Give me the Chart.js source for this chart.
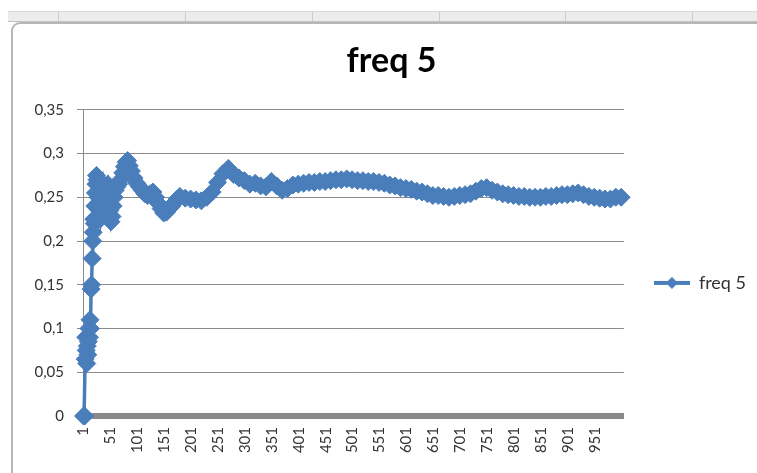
<!DOCTYPE html>
<html>
<head>
<meta charset="utf-8">
<title>freq 5</title>
<script src="https://cdn.jsdelivr.net/npm/chart.js@4.4.1/dist/chart.umd.min.js"></script>
<style>
  html, body { margin: 0; padding: 0; background: #fff; }
  body { width: 757px; height: 473px; position: relative; overflow: hidden; }
  .sheet-head { position: absolute; left: 8px; right: 0; top: 11px; height: 9px; background: #ececec; border-top: 1px solid #dadada; border-bottom: 1px solid #c2c2c2; }
  .sheet-head span { position: absolute; top: 0; bottom: 0; width: 1px; background: #cdcdcd; }
  .frame { position: absolute; left: 11px; top: 22px; width: 820px; height: 520px; border: 2px solid #b7b7b7; border-radius: 9px; background: #fff; }
  #wrap { position: absolute; left: 0; top: 0; width: 757px; height: 473px; }
</style>
</head>
<body>
<div class="sheet-head">
  <span style="left:50px"></span><span style="left:177px"></span><span style="left:304px"></span>
  <span style="left:431px"></span><span style="left:557px"></span><span style="left:684px"></span>
</div>
<div class="frame"></div>
<div id="wrap"><canvas id="freqChart" width="757" height="473"></canvas></div>
<script>
// series (trial number -> running frequency)
const seriesName = 'freq 5';
const steps = [1, 2, 3, 4, 5, 6, 7, 8, 9, 10, 11, 12, 13, 14, 15, 16, 17, 18, 19, 20,
  21, 22, 23, 24, 25, 26, 28, 30, 32, 34, 36, 38, 40, 42, 44, 46, 48, 50, 52, 54, 56, 58,
  60, 63, 66, 70, 74, 77, 80, 83, 86, 90, 95, 100, 105, 110, 115, 120, 125, 130, 135, 140,
  145, 150, 155, 160, 165, 170, 175, 180, 190, 200, 210, 220, 230, 240, 250,
  260, 270, 280, 290, 300, 310, 320, 330, 340, 350, 360, 370, 380, 390, 400, 410, 420, 430, 440, 450,
  460, 470, 480, 490, 500, 510, 520, 530, 540, 550, 560, 570, 580, 590, 600, 610, 620, 630, 640, 650,
  660, 670, 680, 690, 700, 710, 720, 730, 740, 750, 760, 770, 780, 790, 800, 810, 820, 830, 840, 850,
  860, 870, 880, 890, 900, 910, 920, 930, 940, 950, 960, 970, 980, 990, 1000];
const freq5 = [0, 0, 0, 0.065, 0.09, 0.075, 0.06, 0.08, 0.07, 0.085, 0.1, 0.09, 0.11, 0.1, 0.145, 0.15, 0.18, 0.2, 0.21, 0.225,
  0.22, 0.24, 0.255, 0.265, 0.275, 0.27, 0.25, 0.235, 0.225, 0.24, 0.255, 0.265, 0.255, 0.245, 0.26, 0.265, 0.25, 0.235, 0.222, 0.228, 0.24, 0.25,
  0.258, 0.262, 0.265, 0.27, 0.278, 0.285, 0.29, 0.292, 0.286, 0.28, 0.272, 0.266, 0.262, 0.258, 0.254, 0.252, 0.254, 0.256, 0.25, 0.243,
  0.237, 0.232, 0.233, 0.237, 0.24, 0.244, 0.248, 0.251, 0.249, 0.248, 0.247, 0.246, 0.25, 0.256, 0.267,
  0.277, 0.283, 0.276, 0.272, 0.269, 0.265, 0.266, 0.263, 0.262, 0.268, 0.263, 0.258, 0.26, 0.264, 0.265, 0.266, 0.267, 0.267, 0.268, 0.268,
  0.269, 0.27, 0.27, 0.271, 0.27, 0.269, 0.269, 0.268, 0.268, 0.267, 0.266, 0.264, 0.263, 0.261, 0.26, 0.259, 0.257, 0.256, 0.254, 0.252,
  0.252, 0.251, 0.25, 0.251, 0.252, 0.253, 0.254, 0.257, 0.26, 0.261, 0.258, 0.256, 0.254, 0.253, 0.252, 0.251, 0.251, 0.25, 0.25, 0.25,
  0.251, 0.251, 0.252, 0.253, 0.253, 0.254, 0.255, 0.253, 0.251, 0.25, 0.249, 0.248, 0.248, 0.25, 0.25];
const xTickValues = [1, 51, 101, 151, 201, 251, 301, 351, 401, 451, 501, 551, 601, 651, 701, 751, 801, 851, 901, 951];

const blue = '#4a7ebb';
const fontFamily = 'Lato, "Open Sans", sans-serif';

// legend marker: a line with a diamond in the middle, like Excel
function legendMarker() {
    const c = document.createElement('canvas');
    c.width = 36;
    c.height = 14;
    const g = c.getContext('2d');
    g.fillStyle = blue;
    g.fillRect(0, 5, 36, 4);
    g.beginPath();
    g.moveTo(18, 1);
    g.lineTo(24, 7);
    g.lineTo(18, 13);
    g.lineTo(12, 7);
    g.closePath();
    g.fill();
    return c;
}

// Excel puts the legend a bit below the middle of the plot
const nudgeLegend = {
    id: 'nudgeLegend',
    afterLayout(chart) {
        if (chart.legend) {
            chart.legend.top += 20;
            chart.legend.bottom += 20;
        }
    }
};

const points = steps.map((s, i) => ({ x: s, y: freq5[i] }));

new Chart(document.getElementById('freqChart'), {
    type: 'line',
    data: {
        datasets: [{
            label: seriesName,
            data: points,
            borderColor: blue,
            backgroundColor: blue,
            borderWidth: 3.5,
            tension: 0,
            clip: false,
            pointStyle: 'rectRot',
            pointRadius: 9,
            pointBorderWidth: 1,
            pointBackgroundColor: blue,
            pointBorderColor: blue
        }]
    },
    options: {
        responsive: false,
        animation: false,
        layout: { padding: { left: 27, top: 25, right: 1, bottom: 0 } },
        plugins: {
            title: {
                display: true,
                text: seriesName,
                color: '#000',
                font: { family: fontFamily, size: 34, weight: 'bold' },
                padding: { top: 16, bottom: 28 }
            },
            legend: {
                position: 'right',
                fullSize: false,
                labels: {
                    usePointStyle: true,
                    pointStyle: legendMarker(),
                    pointStyleWidth: 36,
                    padding: 30,
                    color: '#333',
                    font: { family: fontFamily, size: 18 }
                }
            },
            tooltip: { enabled: false }
        },
        scales: {
            x: {
                type: 'linear',
                min: 0,
                max: 1005,
                afterBuildTicks: function(scale) {
                    scale.ticks = xTickValues.map(v => ({ value: v }));
                },
                afterFit: function(scale) { scale.height = 57; },
                grid: { display: false, drawTicks: false },
                border: { display: true, color: '#8a8a8a', width: 6 },
                ticks: {
                    autoSkip: false,
                    maxRotation: 90,
                    minRotation: 90,
                    padding: 11,
                    color: '#333',
                    font: { family: fontFamily, size: 15 }
                }
            },
            y: {
                min: 0,
                max: 0.35,
                afterFit: function(scale) { scale.width = 56; },
                grid: { color: '#8c8c8c', lineWidth: 1, tickLength: 6, tickColor: '#8c8c8c' },
                border: { color: '#8c8c8c', width: 1 },
                ticks: {
                    stepSize: 0.05,
                    padding: 13,
                    color: '#333',
                    font: { family: fontFamily, size: 15 },
                    callback: v => String(Math.round(v * 100) / 100).replace('.', ',')
                }
            }
        }
    },
    plugins: [nudgeLegend]
});
</script>
</body>
</html>
